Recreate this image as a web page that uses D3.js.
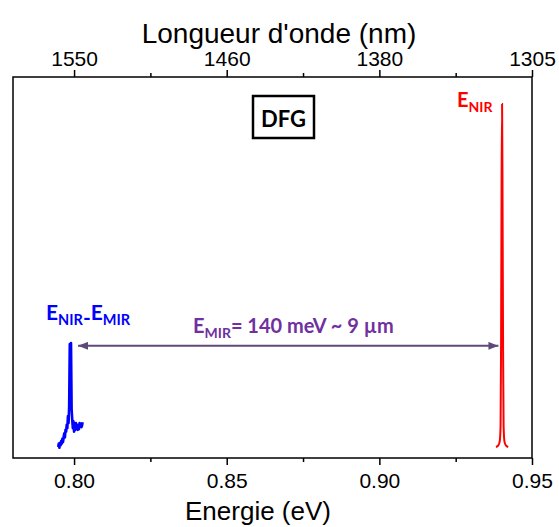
<!DOCTYPE html>
<html><head><meta charset="utf-8">
<script src="https://cdn.jsdelivr.net/npm/d3@7"></script>
<style>
body{margin:0;background:#fff;}
svg{display:block;}
.ax text{font-family:"Liberation Sans",Arial,sans-serif;font-size:21px;fill:#000;}
.ax path,.ax line{stroke:#000;stroke-width:1.5px;}
.ann{font-family:Lato,"Open Sans",sans-serif;font-weight:bold;}
</style></head>
<body>
<svg id="c" width="559" height="527"></svg>
<script>
// ---- data ----
const energyTicks = [0.80, 0.85, 0.90, 0.95];
const energyMinorTicks = [0.825, 0.875, 0.925];
const wavelengthLabels = ["1550", "1460", "1380", "1305"];

// E_NIR peak (red)
const nirEnergy = [0.9382, 0.9389, 0.9394, 0.9397, 0.93987, 0.94004, 0.9402, 0.94036, 0.94053, 0.9407, 0.9410, 0.9415, 0.9422];
const nirIntensity = [0.000, 0.004, 0.015, 0.06, 0.30, 0.78, 1.000, 0.70, 0.28, 0.06, 0.015, 0.004, 0.000];

// E_NIR - E_MIR peak (blue)
const dfgEnergy = [0.7948,0.7950,0.7952,0.7954,0.7956,0.7958,0.7960,0.7962,0.7964,0.7966,0.7968,0.7970,0.7972,0.7974,0.7976,0.7978,0.7980,0.7982,0.7984,0.7986,0.7988,0.7990,0.7992,0.7994,0.7996,0.7998,0.8000,0.8002,0.8004,0.8006,0.8008,0.8010,0.8012,0.8014,0.8016,0.8018,0.8020,0.8022,0.8024,0.8026,0.8028];
const dfgIntensity = [0.000,0.010,-0.002,0.012,0.005,0.018,0.010,0.025,0.015,0.030,0.040,0.028,0.050,0.045,0.065,0.055,0.090,0.070,0.120,0.300,0.150,0.303,0.110,0.080,0.055,0.075,0.045,0.060,0.050,0.070,0.055,0.065,0.050,0.060,0.052,0.070,0.060,0.068,0.058,0.062,0.072];

const arrowEnergies = [0.8013, 0.9390];
const arrowLevel = 0.295;

// ---- layout ----
const svg = d3.select("#c");
const L = 13, R = 532, T = 77, B = 458;
const x = d3.scaleLinear().domain([0.78, 0.95]).range([L, R]);
const y = d3.scaleLinear().domain([-0.032, 1.079]).range([B, T]);

// frame
svg.append("rect").attr("x", L).attr("y", T).attr("width", R - L).attr("height", B - T)
  .attr("fill", "none").attr("stroke", "#000").attr("stroke-width", 1.5);

// curves
const line = d3.line().x(d => x(d[0])).y(d => y(d[1]));
svg.append("path").datum(d3.zip(dfgEnergy, dfgIntensity)).attr("d", line)
  .attr("fill", "none").attr("stroke", "#0000ff").attr("stroke-width", 2.6).attr("stroke-linejoin", "round");
svg.append("path").datum(d3.zip(nirEnergy, nirIntensity)).attr("d", d3.line().curve(d3.curveMonotoneX).x(d => x(d[0])).y(d => y(d[1])))
  .attr("fill", "none").attr("stroke", "#ff0000").attr("stroke-width", 2);

// axes
const gB = svg.append("g").attr("class", "ax").attr("transform", `translate(0,${B})`)
  .call(d3.axisBottom(x).tickValues(energyTicks).tickSize(7).tickPadding(8).tickFormat(d3.format(".2f")));
const gBm = svg.append("g").attr("class", "ax").attr("transform", `translate(0,${B})`)
  .call(d3.axisBottom(x).tickValues(energyMinorTicks).tickSize(4).tickFormat(""));
const gT = svg.append("g").attr("class", "ax").attr("transform", `translate(0,${T})`)
  .call(d3.axisTop(x).tickValues(energyTicks).tickSize(7).tickPadding(4).tickFormat((d, i) => wavelengthLabels[i]));
const gTm = svg.append("g").attr("class", "ax").attr("transform", `translate(0,${T})`)
  .call(d3.axisTop(x).tickValues(energyMinorTicks).tickSize(4).tickFormat(""));
[gB, gBm, gT, gTm].forEach(g => g.select(".domain").remove());

// axis titles
svg.append("text").attr("x", 258).attr("y", 520).attr("text-anchor", "middle")
  .style("font-family", "'Liberation Sans',Arial,sans-serif").style("font-size", "26px").text("Energie (eV)");
svg.append("text").attr("x", 279).attr("y", 43).attr("text-anchor", "middle")
  .style("font-family", "'Liberation Sans',Arial,sans-serif").style("font-size", "28px").text("Longueur d'onde (nm)");

// DFG box
svg.append("rect").attr("x", 253).attr("y", 96).attr("width", 61).attr("height", 42)
  .attr("fill", "#fff").attr("stroke", "#000").attr("stroke-width", 2.5);
svg.append("text").attr("class", "ann").attr("x", 283.5).attr("y", 126.5).attr("text-anchor", "middle")
  .style("font-size", "22px").text("DFG");

// E_NIR label
const tN = svg.append("text").attr("class", "ann").attr("x", 457).attr("y", 107).attr("fill", "#ff0000").style("font-size", "20px");
tN.append("tspan").text("E");
tN.append("tspan").attr("dy", 5).style("font-size", "14px").text("NIR");

// E_NIR-E_MIR label
const tD = svg.append("text").attr("class", "ann").attr("x", 46).attr("y", 320).attr("fill", "#0000ff").style("font-size", "21px");
tD.append("tspan").text("E");
tD.append("tspan").attr("dy", 5).style("font-size", "14.5px").text("NIR");
tD.append("tspan").text("-");
tD.append("tspan").attr("dy", -5).text("E");
tD.append("tspan").attr("dy", 5).style("font-size", "14.5px").text("MIR");

// E_MIR label
const tM = svg.append("text").attr("class", "ann").attr("x", 193).attr("y", 333).attr("fill", "#7030a0").style("font-size", "20px");
tM.append("tspan").text("E");
tM.append("tspan").attr("dy", 5).style("font-size", "14px").text("MIR");
tM.append("tspan").attr("dy", -5).text("= 140 meV ~ 9 µm");

// double arrow
const defs = svg.append("defs");
["s", "e"].forEach(k => {
  defs.append("marker").attr("id", "ar" + k).attr("viewBox", "0 0 10 8").attr("refX", 10).attr("refY", 4)
    .attr("markerWidth", 10).attr("markerHeight", 8).attr("markerUnits", "userSpaceOnUse")
    .attr("orient", "auto-start-reverse")
    .append("path").attr("d", "M0,0 L10,4 L0,8 Z").attr("fill", "#5f497a");
});
svg.append("line").attr("x1", x(arrowEnergies[0])).attr("x2", x(arrowEnergies[1]))
  .attr("y1", y(arrowLevel)).attr("y2", y(arrowLevel))
  .attr("stroke", "#5f497a").attr("stroke-width", 2)
  .attr("marker-start", "url(#ars)").attr("marker-end", "url(#are)");
</script>
</body></html>
